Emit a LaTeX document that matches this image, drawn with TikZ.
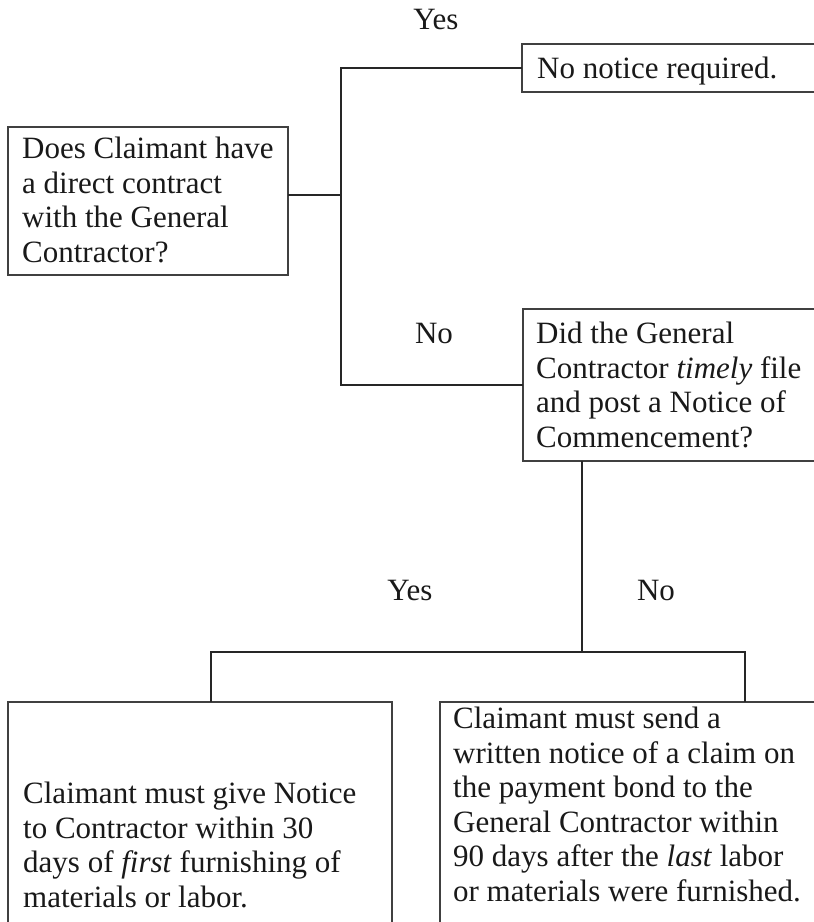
\documentclass[tikz,border=0pt]{standalone}
\usepackage{fontspec}
\setmainfont{Liberation Serif}

\begin{document}
\begin{tikzpicture}[x=1pt,y=-1pt,
    box/.style={draw=black!75,line width=1.2pt,inner sep=0pt,outer sep=0pt,anchor=north west},
    txt/.style={align=left,inner sep=0pt,anchor=north west,text=black!90,font=\fontsize{31}{34.5}\selectfont},
    ans/.style={inner sep=0pt,anchor=base,text=black!90,font=\fontsize{31}{34.5}\selectfont},
    link/.style={draw=black!85,line width=1.2pt}]
    \useasboundingbox (0,0) rectangle (814,922);
    \clip (0,0) rectangle (814,922);

    % Boxes
    \node[box,minimum width=280,minimum height=148] (contract) at (8,127) {};
    \node[box,minimum width=330,minimum height=48] (none) at (522,44) {};
    \node[box,minimum width=330,minimum height=152] (noc) at (523,309) {};
    \node[box,minimum width=384,minimum height=260] (first) at (8,702) {};
    \node[box,minimum width=400,minimum height=260] (last) at (440,702) {};

    % Box texts
    \node[txt] (contract text) at (22,137) {Does Claimant have\\a direct contract\\with the General\\Contractor?};
    \node[txt] (none text) at (537,57) {No notice required.};
    \node[txt] (noc text) at (536,322) {Did the General\\Contractor \textit{timely} file\\and post a Notice of\\Commencement?};
    \node[txt] (first text) at (23,782) {Claimant must give Notice\\to Contractor within 30\\days of \textit{first} furnishing of\\materials or labor.};
    \node[txt] (last text) at (453,707) {Claimant must send a\\written notice of a claim on\\the payment bond to the\\General Contractor within\\90 days after the \textit{last} labor\\or materials were furnished.};

    % Connectors
    \coordinate (split1) at (341,195);
    \coordinate (split2) at (582,652);
    \coordinate (yes2) at (211,652);
    \coordinate (no2) at (745,652);
    \draw[link] (contract.east |- split1) -- (split1);
    \draw[link] (none.west) -| (split1) |- (noc.west);
    \draw[link] (noc.south -| split2) -- (split2);
    \draw[link] (first.north -| yes2) -- (yes2) -- (no2) -- (no2 |- last.north);

    % Answers
    \node[ans] (yes1) at (436,29) {Yes};
    \node[ans] (no1) at (434,343) {No};
    \node[ans] (yes2 label) at (410,600) {Yes};
    \node[ans] (no2 label) at (656,600) {No};
\end{tikzpicture}
\end{document}
